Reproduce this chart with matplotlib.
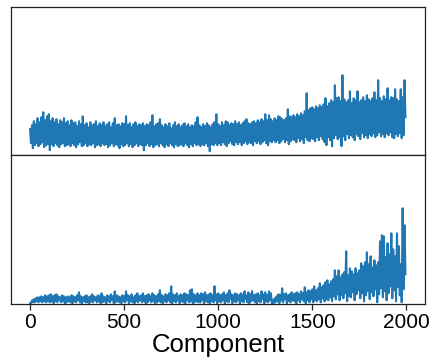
import matplotlib
matplotlib.use("Agg")
import matplotlib.pyplot as plt
import numpy as np

plt.rcParams['font.family'] = ['Liberation Sans', 'DejaVu Sans']

# component index of each sampled high (lows sit 5 components later)
components = list(range(0, 2000, 10))

# upper panel: local highs and lows (arbitrary units)
top_hi = [26, 30, 34, 31, 37, 33, 38, 43, 35, 39,
          41, 34, 37, 33, 36, 31, 35, 33, 37, 32,
          34, 30, 35, 32, 33, 29, 34, 31, 39, 30,
          32, 28, 33, 30, 31, 34, 29, 32, 30, 33,
          29, 31, 33, 28, 32, 37, 30, 31, 29, 32,
          31, 39, 30, 32, 28, 31, 33, 29, 31, 30,
          32, 29, 31, 30, 33, 40, 29, 31, 32, 36,
          30, 28, 31, 29, 32, 27, 30, 33, 29, 31,
          28, 30, 32, 29, 31, 28, 30, 29, 33, 38,
          30, 28, 31, 29, 32, 30, 28, 31, 33, 41,
          31, 29, 33, 30, 34, 33, 30, 32, 31, 34,
          31, 33, 30, 32, 34, 36, 32, 31, 33, 34,
          32, 35, 33, 36, 34, 41, 35, 40, 36, 34,
          37, 35, 39, 38, 36, 35, 37, 46, 39, 38,
          40, 38, 41, 39, 42, 40, 44, 62, 45, 47,
          48, 46, 49, 47, 50, 48, 51, 57, 49, 52,
          55, 53, 70, 57, 58, 54, 80, 56, 53, 55,
          64, 52, 57, 55, 64, 53, 55, 58, 54, 60,
          56, 54, 57, 63, 55, 75, 57, 54, 59, 56,
          67, 55, 58, 57, 66, 56, 54, 66, 58, 75]
top_lo = [12, 7, 10, 12, 9, 11, 13, 8, 10, 11,
          5, 11, 9, 12, 10, 8, 11, 12, 9, 10,
          11, 9, 12, 10, 8, 11, 13, 9, 10, 12,
          9, 11, 10, 12, 8, 10, 11, 9, 12, 10,
          11, 8, 10, 12, 9, 11, 10, 7, 11, 9,
          10, 12, 9, 11, 8, 10, 12, 9, 11, 10,
          5, 10, 12, 9, 11, 8, 10, 11, 9, 12,
          10, 8, 11, 9, 12, 10, 8, 11, 9, 10,
          11, 9, 12, 10, 8, 11, 9, 12, 10, 11,
          9, 11, 10, 12, 9, 4, 11, 10, 12, 10,
          12, 10, 13, 11, 9, 12, 14, 11, 10, 13,
          11, 13, 10, 12, 14, 11, 13, 12, 10, 14,
          12, 14, 11, 13, 15, 12, 10, 14, 13, 15,
          13, 15, 12, 14, 16, 13, 15, 11, 14, 16,
          15, 13, 17, 14, 16, 12, 18, 15, 14, 17,
          16, 14, 18, 15, 19, 16, 13, 10, 18, 15,
          9, 17, 20, 16, 18, 9, 19, 15, 21, 17,
          20, 18, 15, 21, 19, 16, 22, 18, 20, 17,
          21, 19, 22, 18, 20, 23, 19, 21, 18, 22,
          20, 23, 18, 17, 21, 19, 22, 17, 20, 38]

# lower panel: local highs and lows (arbitrary units)
bot_hi = [1, 4, 5, 6, 7, 7, 8, 7, 9, 8,
          9, 10, 8, 9, 10, 8, 7, 9, 8, 7,
          8, 7, 9, 8, 7, 9, 12, 8, 7, 8,
          9, 7, 8, 10, 8, 7, 9, 8, 11, 8,
          7, 9, 8, 10, 8, 13, 9, 8, 7, 9,
          8, 13, 9, 8, 10, 7, 9, 11, 8, 9,
          11, 8, 9, 10, 8, 11, 9, 8, 10, 14,
          9, 8, 10, 9, 11, 18, 10, 9, 11, 8,
          10, 9, 11, 10, 9, 14, 15, 10, 9, 11,
          9, 11, 10, 12, 9, 10, 11, 9, 18, 10,
          11, 9, 10, 12, 9, 11, 14, 10, 9, 11,
          10, 9, 11, 10, 13, 9, 12, 10, 13, 9,
          10, 11, 9, 13, 10, 12, 9, 13, 11, 4,
          6, 8, 10, 9, 16, 10, 11, 9, 10, 12,
          10, 11, 12, 10, 13, 11, 17, 12, 14, 13,
          15, 18, 14, 16, 21, 17, 19, 22, 24, 20,
          23, 25, 34, 28, 34, 27, 30, 32, 53, 29,
          36, 33, 30, 36, 31, 34, 41, 38, 42, 52,
          40, 48, 37, 44, 39, 42, 63, 69, 68, 47,
          61, 50, 71, 55, 48, 71, 58, 40, 96, 79]
bot_lo = [1, 2, 2, 3, 2, 3, 2, 3, 2, 3,
          2, 3, 1, 3, 2, 4, 2, 3, 1, 2,
          3, 2, 1, 3, 2, 4, 2, 1, 3, 2,
          2, 1, 3, 2, 4, 2, 3, 1, 2, 3,
          1, 3, 2, 4, 1, 2, 3, 2, 1, 3,
          2, 4, 1, 3, 2, 1, 3, 2, 4, 2,
          3, 1, 2, 4, 2, 3, 1, 2, 3, 2,
          1, 3, 2, 4, 2, 1, 3, 2, 4, 1,
          3, 2, 1, 4, 2, 3, 1, 2, 3, 2,
          2, 4, 1, 3, 2, 1, 3, 2, 4, 1,
          3, 2, 4, 1, 3, 2, 5, 1, 3, 2,
          4, 1, 3, 2, 5, 2, 1, 3, 4, 2,
          1, 3, 2, 5, 1, 3, 2, 4, 1, 1,
          2, 3, 1, 4, 2, 5, 1, 3, 2, 4,
          3, 1, 4, 2, 5, 3, 1, 4, 2, 5,
          2, 4, 3, 5, 2, 6, 3, 5, 4, 7,
          3, 8, 5, 10, 4, 9, 6, 11, 3, 8,
          7, 12, 4, 10, 14, 6, 11, 3, 9, 13,
          5, 12, 8, 15, 2, 10, 16, 7, 13, 4,
          11, 18, 6, 14, 3, 17, 9, 2, 15, 30]

xticks = [0, 500, 1000, 1500, 2000]
xlabel = "Component"


def interleave(hi, lo):
    xs, ys = [], []
    for c, h, l in zip(components, hi, lo):
        xs += [c, c + 5]
        ys += [h, l]
    return xs, ys


fig = plt.figure(figsize=(4.33, 3.64), dpi=100)
ax1 = fig.add_axes([0.026, 0.5736, 0.956, 0.4064])
ax2 = fig.add_axes([0.026, 0.164, 0.956, 0.4096], sharex=ax1)

x1, y1 = interleave(top_hi, top_lo)
x2, y2 = interleave(bot_hi, bot_lo)
ax1.plot(x1, y1, color='#1f77b4', lw=1.5)
ax2.plot(x2, y2, color='#1f77b4', lw=1.5)

ax1.set_ylim(0, 148)
ax2.set_ylim(0, 149)
ax1.set_xlim(-100, 2100)

for ax in (ax1, ax2):
    ax.set_yticks([])
    for s in ax.spines.values():
        s.set_color('#222222')
        s.set_linewidth(0.9)
ax1.tick_params(axis='x', bottom=False, labelbottom=False)
ax2.set_xticks(xticks)
ax2.tick_params(axis='x', labelsize=15, length=4, width=0.9, color='#222222', pad=2)
ax2.set_xlabel(xlabel, fontsize=18.5, labelpad=1)

fig.savefig("out.png", dpi=100)
